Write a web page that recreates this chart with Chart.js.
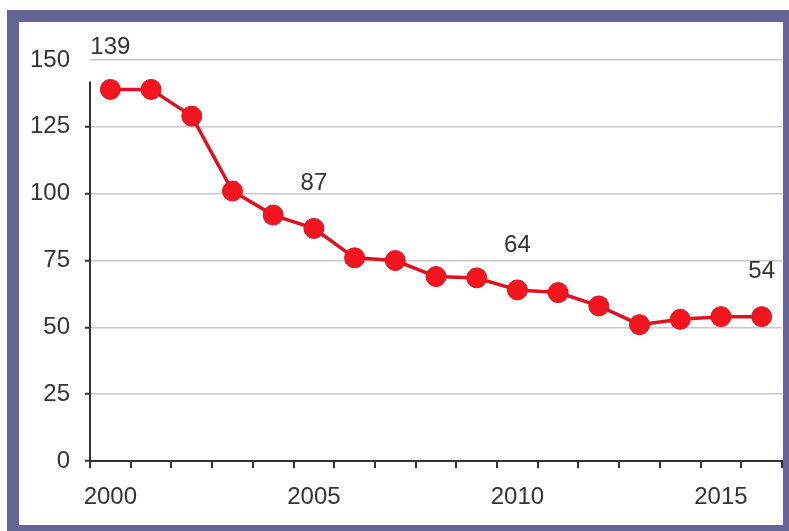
<!DOCTYPE html>
<html>
<head>
<meta charset="utf-8">
<script src="https://cdn.jsdelivr.net/npm/chart.js@4.4.0/dist/chart.umd.min.js"></script>
<style>
  html, body { margin: 0; padding: 0; background: #fff; width: 789px; height: 531px; overflow: hidden; }
  #frame { position: absolute; left: 7px; top: 10px; width: 764px; height: 503px;
           border: 12px solid #646496; background: #fff; }
  #wrap { position: relative; width: 764px; height: 503px; }
</style>
</head>
<body>
<div id="frame"><div id="wrap"><canvas id="c"></canvas></div></div>
<script>
// Years on the horizontal axis
const years = ['2000','2001','2002','2003','2004','2005','2006','2007','2008',
               '2009','2010','2011','2012','2013','2014','2015','2016'];
// Yearly values
const values = [139, 139, 129, 101, 92, 87, 76, 75, 69, 68.5, 64, 63, 58, 51, 53, 54, 54];
// Years whose tick label is written out
const shownYears = ['2000', '2005', '2010', '2015'];
// Years whose value is printed above the point
const annotatedYears = ['2000', '2005', '2010', '2016'];
// Vertical scale
const yTicks = [0, 25, 50, 75, 100, 125, 150];
const axisTopValue = 142;

const FONT = { family: '"Liberation Sans", Arial, sans-serif', size: 24 };
const TEXT = '#333';

// Value labels above selected points, and a y-axis line that stops short of the top
const extras = {
  id: 'extras',
  afterDraw(chart) {
    const { ctx, chartArea } = chart;
    const y = chart.scales.y;
    ctx.save();
    ctx.strokeStyle = '#333';
    ctx.lineWidth = 2;
    ctx.beginPath();
    ctx.moveTo(chartArea.left, y.getPixelForValue(axisTopValue));
    ctx.lineTo(chartArea.left, y.getPixelForValue(0));
    ctx.stroke();

    const meta = chart.getDatasetMeta(0);
    ctx.font = FONT.size + 'px ' + FONT.family;
    ctx.fillStyle = TEXT;
    ctx.textAlign = 'center';
    ctx.textBaseline = 'middle';
    annotatedYears.forEach(yr => {
      const i = years.indexOf(yr);
      const pt = meta.data[i];
      const ty = Math.max(pt.y - 45, chartArea.top - 13);
      ctx.fillText(String(values[i]), pt.x, ty);
    });
    ctx.restore();
  }
};

new Chart(document.getElementById('c'), {
  type: 'line',
  data: {
    labels: years,
    datasets: [{
      data: values,
      borderColor: '#e0101e',
      borderWidth: 3.5,
      backgroundColor: '#f2141e',
      pointBackgroundColor: '#f2141e',
      pointBorderColor: '#e0101e',
      pointBorderWidth: 1,
      pointRadius: 10,
      pointHoverRadius: 10,
      tension: 0,
      clip: false
    }]
  },
  options: {
    responsive: true,
    maintainAspectRatio: false,
    animation: false,
    events: [],
    layout: { autoPadding: false, padding: { top: 38, right: 1, left: 0, bottom: 0 } },
    plugins: { legend: { display: false }, tooltip: { enabled: false } },
    scales: {
      x: {
        type: 'category',
        offset: true,
        grid: { offset: true, drawOnChartArea: false, drawTicks: true, tickLength: 7,
                color: '#333', lineWidth: 2 },
        border: { display: true, color: '#333', width: 2 },
        ticks: {
          autoSkip: false, maxRotation: 0, minRotation: 0, padding: 15,
          font: FONT, color: TEXT,
          callback: (v, i) => shownYears.includes(years[i]) ? years[i] : ''
        },
        afterFit: s => { s.height = 64; }
      },
      y: {
        min: 0,
        max: 150,
        afterBuildTicks: s => { s.ticks = yTicks.map(v => ({ value: v })); },
        grid: {
          color: '#c8c8c8', lineWidth: 1.5, tickLength: 5, drawTicks: true,
          tickColor: c => c.tick && c.tick.value === 150 ? 'rgba(0,0,0,0)' : '#333',
          tickWidth: 2
        },
        border: { display: false },
        ticks: { padding: 15, font: FONT, color: TEXT },
        afterFit: s => { s.width = 71; }
      }
    }
  },
  plugins: [extras]
});
</script>
</body>
</html>
